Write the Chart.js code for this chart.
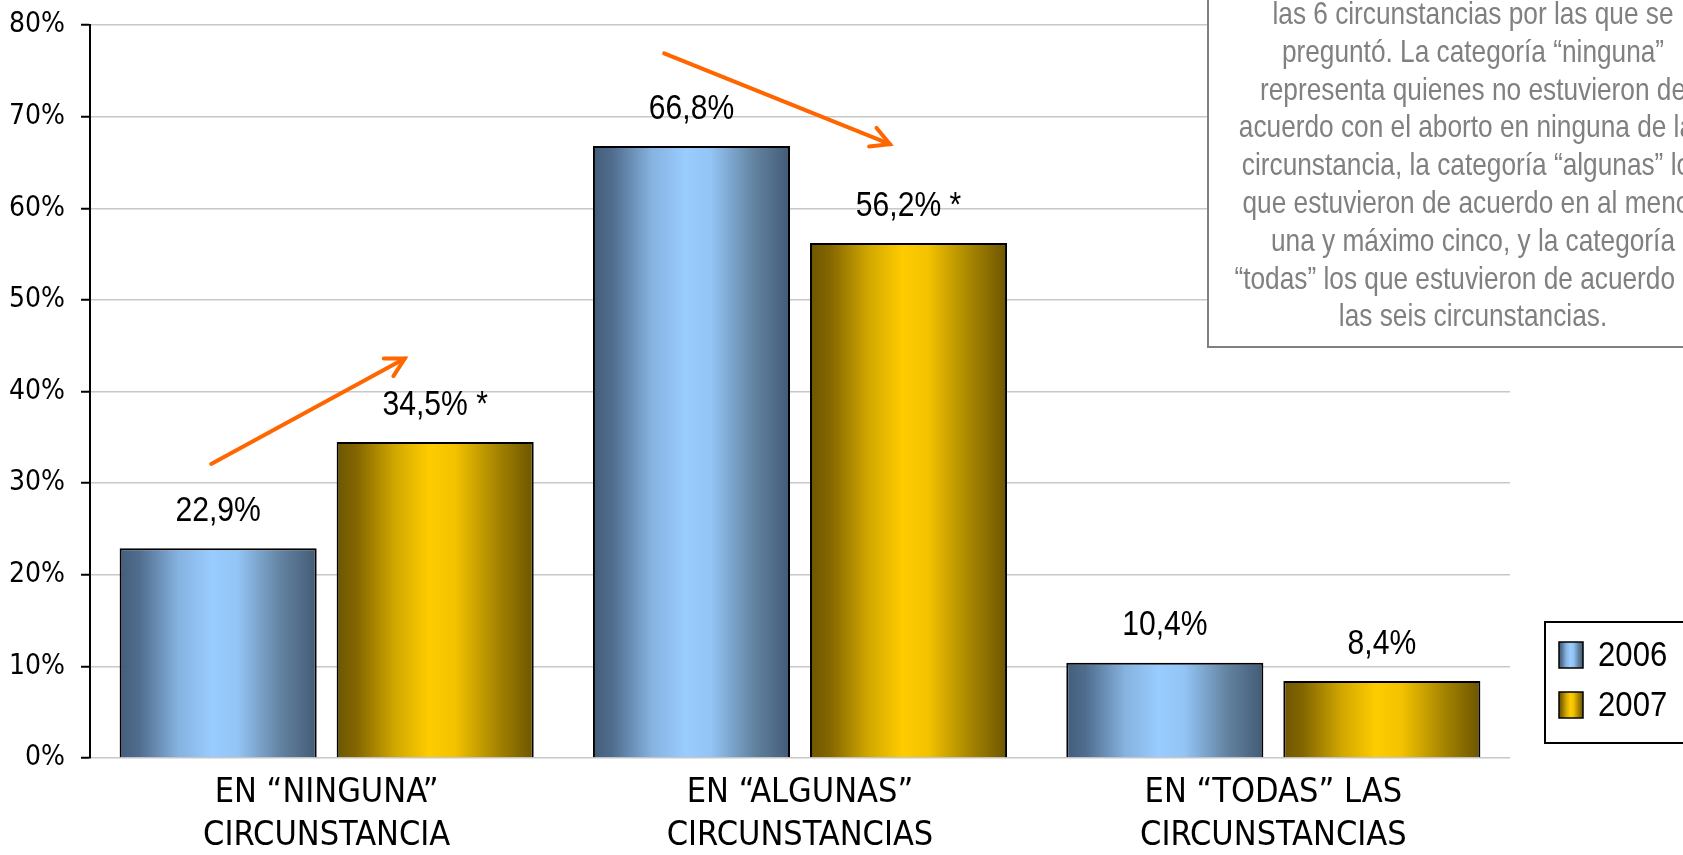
<!DOCTYPE html>
<html><head><meta charset="utf-8">
<script src="https://cdn.jsdelivr.net/npm/chart.js@4.4.1/dist/chart.umd.min.js"></script>
<style>html,body{margin:0;padding:0;background:#fff;overflow:hidden;} #wrap{width:1683px;height:855px;position:relative;}</style>
</head><body><div id="wrap"><canvas id="c"></canvas></div>
<script>
// ---- data ----
const categories = [
  ['EN “NINGUNA”', 'CIRCUNSTANCIA'],
  ['EN “ALGUNAS”', 'CIRCUNSTANCIAS'],
  ['EN “TODAS” LAS', 'CIRCUNSTANCIAS']
];
const seriesNames = ['2006', '2007'];
const values2006 = [22.9, 66.8, 10.4];
const values2007 = [34.5, 56.2, 8.4];
const significant2006 = [false, false, false];
const significant2007 = [true, true, false];
const yTickValues = [0, 10, 20, 30, 40, 50, 60, 70, 80];
const noteLines = [
  'las 6 circunstancias por las que se',
  'preguntó. La categoría “ninguna”',
  'representa quienes no estuvieron de',
  'acuerdo con el aborto en ninguna de las',
  'circunstancia, la categoría “algunas” los',
  'que estuvieron de acuerdo en al menos',
  'una y máximo cinco, y la categoría',
  '“todas” los que estuvieron de acuerdo en',
  'las seis circunstancias.'
];
// trend arrows in data units: [category position, value %]
const trendArrows = [
  { from: [-0.244, 32.1], to: [0.165, 43.6] },
  { from: [0.713, 76.9], to: [1.19, 67.0] }
];

// ---- styles ----
const AXIS_FONT = "'DejaVu Sans Condensed', 'DejaVu Sans', sans-serif";
const TEXT_FONT = "'Liberation Sans', Arial, sans-serif";
const gradStops = [
  [[0, '#445c7a'], [0.1, '#506d8e'], [0.3, '#86b3e0'], [0.47, '#99ccff'], [0.6, '#93c4f5'], [0.82, '#62829f'], [1, '#435a76']],
  [[0, '#6e5600'], [0.1, '#836600'], [0.3, '#d2a800'], [0.47, '#ffcc00'], [0.6, '#f3c200'], [0.82, '#a48300'], [1, '#6c5500']]
];
const solid = ['#99ccff', '#ffcc00'];

function makeGrad(ctx, x0, x1, idx) {
  const g = ctx.createLinearGradient(x0, 0, x1, 0);
  gradStops[idx].forEach(s => g.addColorStop(s[0], s[1]));
  return g;
}
function fmt(v) { return v.toFixed(1).replace('.', ',') + '%'; }
// narrow text: Liberation Sans compressed horizontally (Arial Narrow look)
function narrowText(ctx, t, x, y, align, k) {
  ctx.save();
  ctx.translate(x, y);
  ctx.scale(k, 1);
  ctx.textAlign = align;
  ctx.fillText(t, 0, 0);
  ctx.restore();
}

const gradientPlugin = {
  id: 'grad',
  beforeDatasetsDraw(chart) {
    const ctx = chart.ctx;
    chart.data.datasets.forEach((ds, i) => {
      chart.getDatasetMeta(i).data.forEach(el => {
        const p = el.getProps(['x', 'width'], true);
        const o = Object.assign({}, el.options);
        o.backgroundColor = makeGrad(ctx, p.x - p.width / 2, p.x + p.width / 2, i);
        el.options = o;
      });
    });
  }
};

const labelsPlugin = {
  id: 'vlabels',
  afterDatasetsDraw(chart) {
    const ctx = chart.ctx;
    const sig = [significant2006, significant2007];
    ctx.save();
    ctx.font = '35px ' + TEXT_FONT;
    ctx.fillStyle = '#000';
    ctx.textBaseline = 'middle';
    chart.data.datasets.forEach((ds, i) => {
      chart.getDatasetMeta(i).data.forEach((el, j) => {
        const t = fmt(ds.data[j]) + (sig[i][j] ? ' *' : '');
        narrowText(ctx, t, el.x, el.y - 37, 'center', 0.86);
      });
    });
    ctx.restore();
  }
};

const overlayPlugin = {
  id: 'overlay',
  afterDraw(chart) {
    const ctx = chart.ctx;
    const xs = chart.scales.x, ys = chart.scales.y;
    // arrows
    ctx.save();
    ctx.strokeStyle = '#ff6600';
    ctx.lineWidth = 4;
    ctx.lineCap = 'round';
    trendArrows.forEach(a => {
      const x0 = xs.getPixelForValue(a.from[0]), y0 = ys.getPixelForValue(a.from[1]);
      const x1 = xs.getPixelForValue(a.to[0]), y1 = ys.getPixelForValue(a.to[1]);
      ctx.beginPath(); ctx.moveTo(x0, y0); ctx.lineTo(x1, y1); ctx.stroke();
      const ang = Math.atan2(y0 - y1, x0 - x1);
      const L = 21, h = 0.5;
      ctx.beginPath();
      ctx.moveTo(x1 + L * Math.cos(ang + h), y1 + L * Math.sin(ang + h));
      ctx.lineTo(x1, y1);
      ctx.lineTo(x1 + L * Math.cos(ang - h), y1 + L * Math.sin(ang - h));
      ctx.stroke();
    });
    ctx.restore();

    // note box
    ctx.save();
    ctx.fillStyle = '#fff';
    ctx.strokeStyle = '#808080';
    ctx.lineWidth = 2;
    ctx.fillRect(1208, -10, 540, 357);
    ctx.strokeRect(1208, -10, 540, 357);
    ctx.fillStyle = '#808080';
    ctx.font = '32px ' + TEXT_FONT;
    ctx.textBaseline = 'alphabetic';
    noteLines.forEach((l, i) => narrowText(ctx, l, 1473, 24 + i * 37.8, 'center', 0.82));
    ctx.restore();

    // legend
    ctx.save();
    ctx.fillStyle = '#fff';
    ctx.strokeStyle = '#000';
    ctx.lineWidth = 2;
    ctx.fillRect(1545, 622, 200, 121);
    ctx.strokeRect(1545, 622, 200, 121);
    ctx.font = '35px ' + TEXT_FONT;
    ctx.textBaseline = 'middle';
    seriesNames.forEach((n, i) => {
      const cy = 655 + i * 50;
      ctx.fillStyle = makeGrad(ctx, 1559, 1583, i);
      ctx.fillRect(1559, cy - 13, 24, 26);
      ctx.lineWidth = 1.5;
      ctx.strokeRect(1559, cy - 13, 24, 26);
      ctx.fillStyle = '#000';
      narrowText(ctx, n, 1598, cy + 1, 'left', 0.89);
    });
    ctx.restore();
  }
};

new Chart(document.getElementById('c'), {
  type: 'bar',
  data: {
    labels: categories,
    datasets: [
      { label: seriesNames[0], data: values2006, backgroundColor: solid[0], borderColor: '#000', borderWidth: 2 },
      { label: seriesNames[1], data: values2007, backgroundColor: solid[1], borderColor: '#000', borderWidth: 2 }
    ]
  },
  options: {
    responsive: true,
    maintainAspectRatio: false,
    animation: false,
    devicePixelRatio: 1,
    categoryPercentage: 0.917,
    barPercentage: 0.908,
    layout: { padding: { top: 25, right: 173, bottom: 0, left: 0 } },
    plugins: { legend: { display: false }, tooltip: { enabled: false } },
    scales: {
      x: {
        grid: { display: false, drawTicks: false },
        border: { display: false },
        ticks: { color: '#000', font: { family: AXIS_FONT, size: 34, lineHeight: 1.28 }, padding: 13, maxRotation: 0, autoSkip: false },
        afterFit(s) { s.height = 97; s.paddingLeft = 0; s.paddingRight = 0; }
      },
      y: {
        min: 0, max: 80,
        afterBuildTicks(s) { s.ticks = yTickValues.map(v => ({ value: v })); },
        grid: { color: '#c8c8c8', lineWidth: 1.5, tickColor: '#000', tickLength: 9, tickWidth: 2 },
        border: { color: '#000', width: 2 },
        ticks: { color: '#000', font: { family: AXIS_FONT, size: 28 }, padding: 16, callback: v => v + '%' },
        afterFit(s) { s.width = 90; s.paddingTop = 0; s.paddingBottom = 0; }
      }
    }
  },
  plugins: [gradientPlugin, labelsPlugin, overlayPlugin]
});
</script>
</body></html>
